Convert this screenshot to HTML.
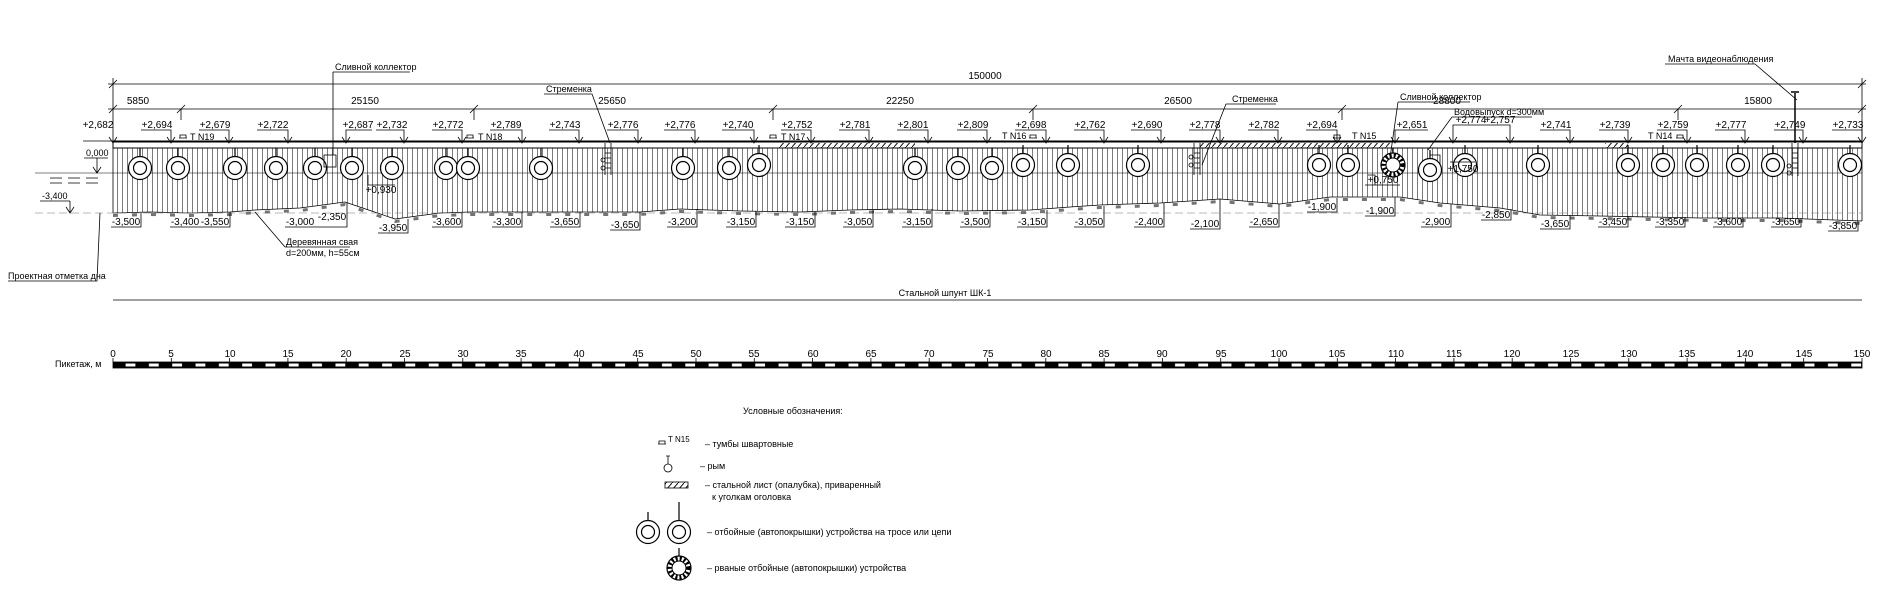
<!DOCTYPE html>
<html><head><meta charset="utf-8"><style>
html,body{margin:0;padding:0;background:#fff;width:1882px;height:600px;overflow:hidden}
svg{display:block}
text{font-family:"Liberation Sans","DejaVu Sans",sans-serif;fill:#000}
.t{font-size:10px;text-anchor:middle}
.s{font-size:9px}
.ln{stroke:#000;stroke-width:0.8;fill:none}
</style></head><body>
<svg width="1882" height="600" viewBox="0 0 1882 600">
<defs>
<pattern id="vl" width="5" height="10" patternUnits="userSpaceOnUse">
<line x1="2.5" y1="0" x2="2.5" y2="10" stroke="#444" stroke-width="0.7"/></pattern>
<pattern id="hh" width="6" height="7" patternUnits="userSpaceOnUse">
<line x1="0" y1="7" x2="6" y2="0" stroke="#000" stroke-width="0.9"/></pattern>
<pattern id="rul" x="113" y="0" width="23.32" height="600" patternUnits="userSpaceOnUse">
<rect x="0" y="0" width="23.32" height="600" fill="#000"/>
<rect x="12.6" y="363.5" width="9.8" height="3" fill="#fff"/></pattern>
<g id="f"><line x1="0" y1="-20" x2="0" y2="-11" stroke="#000" stroke-width="1.2"/>
<circle r="11.5" fill="#fff" stroke="#000" stroke-width="1.2"/><circle r="6.5" fill="none" stroke="#000" stroke-width="1.2"/></g>
<g id="arr"><path d="M-4 -6 L0 0 L4 -6" class="ln"/></g>
<g id="bol"><path d="M-4 -2 h8 M-3 -2 v-3 h6 v3" class="ln"/></g>
</defs>

<!-- dimensions -->
<g class="ln">
<line x1="108" y1="84" x2="1866" y2="84"/>
<line x1="108" y1="109" x2="1866" y2="109"/>
<line x1="113" y1="78" x2="113" y2="143"/>
<line x1="1862" y1="78" x2="1862" y2="143"/>
<path d="M109 88 l8 -8 M109 113 l8 -8 M1858 88 l8 -8 M1858 113 l8 -8 M177 113 l8 -8 M470 113 l8 -8 M769 113 l8 -8 M1029 113 l8 -8 M1338 113 l8 -8 M1674 113 l8 -8"/>
<path d="M181 109 v11 M474 109 v11 M773 109 v11 M1033 109 v11 M1342 109 v11 M1678 109 v11"/>
</g>
<text class="t" x="985" y="79">150000</text>
<text class="t" x="138" y="104">5850</text>
<text class="t" x="365" y="104">25150</text>
<text class="t" x="612" y="104">25650</text>
<text class="t" x="900" y="104">22250</text>
<text class="t" x="1178" y="104">26500</text>
<text class="t" x="1447" y="104">28800</text>
<text class="t" x="1758" y="104">15800</text>

<!-- wall body -->
<polygon fill="url(#vl)" points="113,148 1862,148 1862,221 1780,218 1700,218 1600,216 1540,215 1500,208 1440,203 1400,197 1330,197 1280,204 1220,199 1160,203 1100,205 1070,207 1030,210 960,211 900,209 850,210 800,212 740,211 680,209 640,212 520,212 470,212 440,213 395,219 345,202 300,208 255,210 230,212 190,213 150,212 113,213"/>
<polyline class="ln" stroke-width="1.1" points="113,213 150,212 190,213 230,212 255,210 300,208 345,202 395,219 440,213 470,212 520,212 640,212 680,209 740,211 800,212 850,210 900,209 960,211 1030,210 1070,207 1100,205 1160,203 1220,199 1280,204 1330,197 1400,197 1440,203 1500,208 1540,215 1600,216 1700,218 1780,218 1862,221"/>
<polyline fill="none" stroke="#000" stroke-width="3" stroke-dasharray="5 14" transform="translate(0,2.5)" points="113,213 150,212 190,213 230,212 255,210 300,208 345,202 395,219 440,213 470,212 520,212 640,212 680,209 740,211 800,212 850,210 900,209 960,211 1030,210 1070,207 1100,205 1160,203 1220,199 1280,204 1330,197 1400,197 1440,203 1500,208 1540,215 1600,216 1700,218 1780,218 1862,221" opacity="0.55"/>
<line x1="113" y1="148" x2="113" y2="213" class="ln"/>
<line x1="1862" y1="148" x2="1862" y2="221" class="ln"/>
<line x1="35" y1="173" x2="1862" y2="173" stroke="#000" stroke-width="0.6"/>
<line x1="35" y1="213" x2="1862" y2="213" stroke="#777" stroke-width="0.6" stroke-dasharray="8 4"/>
<path d="M50 178 h12 M68 178 h12 M86 178 h12 M50 183 h12 M68 183 h12 M86 183 h12" class="ln"/>

<!-- cap -->
<rect x="113" y="142" width="1749" height="6" fill="#fff" stroke="#000" stroke-width="1"/>
<line x1="113" y1="141.5" x2="1862" y2="141.5" stroke="#000" stroke-width="2"/>
<rect x="778" y="143" width="137" height="5" fill="url(#hh)"/>
<rect x="1200" y="143" width="190" height="5" fill="url(#hh)"/>
<rect x="1605" y="143" width="23" height="5" fill="url(#hh)"/>

<!-- fenders -->
<g>
<use href="#f" x="140" y="168"/><use href="#f" x="178" y="168"/><use href="#f" x="235" y="168"/><use href="#f" x="276" y="168"/><use href="#f" x="315" y="168"/><use href="#f" x="352" y="168"/><use href="#f" x="392" y="168"/><use href="#f" x="446" y="168"/><use href="#f" x="468" y="168"/><use href="#f" x="541" y="168"/><use href="#f" x="683" y="168"/><use href="#f" x="729" y="168"/><use href="#f" x="759" y="165"/><use href="#f" x="915" y="168"/><use href="#f" x="958" y="168"/><use href="#f" x="992" y="168"/><use href="#f" x="1023" y="165"/><use href="#f" x="1068" y="165"/><use href="#f" x="1138" y="165"/><use href="#f" x="1319" y="165"/><use href="#f" x="1348" y="165"/><use href="#f" x="1430" y="170"/><use href="#f" x="1465" y="165"/><use href="#f" x="1538" y="165"/><use href="#f" x="1628" y="165"/><use href="#f" x="1663" y="165"/><use href="#f" x="1697" y="165"/><use href="#f" x="1738" y="165"/><use href="#f" x="1773" y="165"/><use href="#f" x="1850" y="165"/>
<g transform="translate(1393,165)"><line x1="0" y1="-17" x2="0" y2="-12" stroke="#000" stroke-width="1.2"/><circle r="12" fill="#fff" stroke="#000" stroke-width="1.2"/><circle r="9.25" fill="none" stroke="#000" stroke-width="4.5" stroke-dasharray="2 2"/><circle r="7" fill="#fff" stroke="#000" stroke-width="1"/></g>
</g>

<!-- bollards -->
<use href="#bol" x="183" y="140"/><text class="s" x="190" y="140">T  N19</text>
<use href="#bol" x="470" y="140"/><text class="s" x="478" y="140">T  N18</text>
<use href="#bol" x="773" y="140"/><text class="s" x="781" y="140">T  N17</text>
<text class="s" x="1002" y="139">T  N16</text><use href="#bol" x="1033" y="140"/>
<use href="#bol" x="1337" y="140"/><text class="s" x="1352" y="139">T  N15</text>
<text class="s" x="1648" y="139">T  N14</text><use href="#bol" x="1680" y="140"/>

<!-- ladders -->
<g class="ln">
<path d="M605 143 v32 M611 143 v32 M605 148 h6 M605 153 h6 M605 158 h6 M605 163 h6 M605 168 h6"/>
<circle cx="603" cy="160" r="2"/><circle cx="603" cy="168" r="2"/>
<path d="M1194 143 v32 M1200 143 v32 M1194 148 h6 M1194 153 h6 M1194 158 h6 M1194 163 h6 M1194 168 h6"/>
<circle cx="1191" cy="157" r="2"/><circle cx="1191" cy="165" r="2"/>
<path d="M1792 143 v33 M1798 143 v33 M1792 148 h6 M1792 153 h6 M1792 158 h6 M1792 163 h6 M1792 168 h6"/>
<circle cx="1789" cy="166" r="2"/><circle cx="1789" cy="173" r="2"/>
<path d="M1795 143 V93 M1791 92 h8" stroke-width="1.5"/>
</g>

<!-- leaders & notes -->
<g class="ln">
<path d="M333 72 H410 M333 72 V155"/><rect x="324" y="155" width="12" height="12"/>
<path d="M544 94 H592 L610 143"/>
<path d="M1226 104 H1276 M1226 104 L1202 165"/>
<path d="M1398 102 H1470 M1398 102 L1390 158"/>
<path d="M1452 117 H1532 M1452 117 L1428 150"/>
<path d="M1665 64 H1755 L1797 100"/>
<path d="M368 175 V185 H395" /><path d="M1368 175 H1375 V185 M1365 185 H1400"/><path d="M1430 155 h10 v10 M1450 162 h25"/>
<path d="M285 247 H350 M285 247 L255 212"/>
<path d="M8 281 H97 L100 213"/>
<path d="M83 141 H113"/>
<path d="M84 158 H108 M97 158 V173 M93 167 L97 173 L101 167"/>
<path d="M40 201 H70 M70 201 V213 M66 207 L70 213 L74 207"/>
<line x1="113" y1="300" x2="1862" y2="300"/>
</g>
<text class="s" x="335" y="70">Сливной коллектор</text>
<text class="s" x="546" y="92">Стременка</text>
<text class="s" x="1232" y="102">Стременка</text>
<text class="s" x="1400" y="100">Сливной коллектор</text>
<text class="s" x="1454" y="115">Водовыпуск d=300мм</text>
<text class="s" x="1668" y="62">Мачта видеонаблюдения</text>
<text class="s" x="286" y="245">Деревянная свая</text>
<text class="s" x="286" y="256">d=200мм,  h=55см</text>
<text class="s" x="8" y="279">Проектная отметка дна</text>
<text class="s" x="86" y="156">0,000</text>
<text class="s" x="42" y="199">-3,400</text>
<text class="t" x="381" y="193">+0,930</text>
<text class="t" x="1383" y="183">+0,750</text>
<text class="t" x="1463" y="172">+1,750</text>
<text class="s" x="945" y="296" text-anchor="middle">Стальной шпунт ШК-1</text>

<!-- top elevations -->
<g class="ln">
<use href="#arr" x="113" y="143"/>
<path d="M141 130 H171 V143"/><use href="#arr" x="171" y="143"/>
<path d="M199 130 H229 V143"/><use href="#arr" x="229" y="143"/>
<path d="M257 130 H288 V143"/><use href="#arr" x="288" y="143"/>
<path d="M346 143 V130 H372"/><use href="#arr" x="346" y="143"/>
<path d="M376 130 H404 V143"/><use href="#arr" x="404" y="143"/>
<path d="M432 130 H462 V143"/><use href="#arr" x="462" y="143"/>
<path d="M490 130 H522 V143"/><use href="#arr" x="522" y="143"/>
<path d="M549 130 H579 V143"/><use href="#arr" x="579" y="143"/>
<path d="M607 130 H638 V143"/><use href="#arr" x="638" y="143"/>
<path d="M664 130 H695 V143"/><use href="#arr" x="695" y="143"/>
<path d="M722 130 H754 V143"/><use href="#arr" x="754" y="143"/>
<path d="M781 130 H811 V143"/><use href="#arr" x="811" y="143"/>
<path d="M839 130 H869 V143"/><use href="#arr" x="869" y="143"/>
<path d="M897 130 H928 V143"/><use href="#arr" x="928" y="143"/>
<path d="M957 130 H987 V143"/><use href="#arr" x="987" y="143"/>
<path d="M1015 130 H1046 V143"/><use href="#arr" x="1046" y="143"/>
<path d="M1074 130 H1104 V143"/><use href="#arr" x="1104" y="143"/>
<path d="M1131 130 H1161 V143"/><use href="#arr" x="1161" y="143"/>
<path d="M1189 130 H1220 V143"/><use href="#arr" x="1220" y="143"/>
<path d="M1248 130 H1278 V143"/><use href="#arr" x="1278" y="143"/>
<path d="M1306 130 H1337 V143"/><use href="#arr" x="1337" y="143"/>
<path d="M1395 143 V130 H1428"/><use href="#arr" x="1395" y="143"/>
<path d="M1453 143 V125 H1510 V143"/><use href="#arr" x="1453" y="143"/><use href="#arr" x="1510" y="143"/>
<path d="M1540 130 H1570 V143"/><use href="#arr" x="1570" y="143"/>
<path d="M1599 130 H1628 V143"/><use href="#arr" x="1628" y="143"/>
<path d="M1657 130 H1687 V143"/><use href="#arr" x="1687" y="143"/>
<path d="M1715 130 H1745 V143"/><use href="#arr" x="1745" y="143"/>
<path d="M1774 130 H1803 V143"/><use href="#arr" x="1803" y="143"/>
<path d="M1832 130 H1862 V143"/><use href="#arr" x="1862" y="143"/>
</g>
<g class="t">
<text x="98" y="128">+2,682</text><text x="157" y="128">+2,694</text><text x="215" y="128">+2,679</text><text x="273" y="128">+2,722</text><text x="358" y="128">+2,687</text><text x="392" y="128">+2,732</text><text x="448" y="128">+2,772</text><text x="506" y="128">+2,789</text><text x="565" y="128">+2,743</text><text x="623" y="128">+2,776</text><text x="680" y="128">+2,776</text><text x="738" y="128">+2,740</text><text x="797" y="128">+2,752</text><text x="855" y="128">+2,781</text><text x="913" y="128">+2,801</text><text x="973" y="128">+2,809</text><text x="1031" y="128">+2,698</text><text x="1090" y="128">+2,762</text><text x="1147" y="128">+2,690</text><text x="1205" y="128">+2,778</text><text x="1264" y="128">+2,782</text><text x="1322" y="128">+2,694</text><text x="1412" y="128">+2,651</text><text x="1471" y="123">+2,774</text><text x="1500" y="123">+2,757</text><text x="1556" y="128">+2,741</text><text x="1615" y="128">+2,739</text><text x="1673" y="128">+2,759</text><text x="1731" y="128">+2,777</text><text x="1790" y="128">+2,749</text><text x="1848" y="128">+2,733</text>
</g>

<!-- bottom elevations -->
<g class="ln">
<path d="M111 227 H141 V213"/><path d="M170 227 H230 V212"/><path d="M285 227 H347 V203"/><path d="M378 233 H408 V219"/><path d="M432 227 H462 V213"/>
<path d="M492 227 H522 V212"/><path d="M550 227 H580 V212"/><path d="M610 230 H640 V212"/><path d="M667 227 H697 V209"/><path d="M726 227 H756 V211"/><path d="M785 227 H815 V212"/><path d="M843 227 H873 V210"/><path d="M902 227 H932 V209"/><path d="M960 227 H990 V211"/><path d="M1017 227 H1047 V210"/><path d="M1074 227 H1104 V206"/><path d="M1134 227 H1164 V203"/><path d="M1190 229 H1220 V199"/><path d="M1249 227 H1279 V204"/><path d="M1307 212 H1337 V198"/><path d="M1365 216 H1395 V197"/><path d="M1421 227 H1451 V204"/><path d="M1481 220 H1511 V209"/><path d="M1540 229 H1570 V215"/><path d="M1598 227 H1628 V216"/><path d="M1655 227 H1685 V217"/><path d="M1713 227 H1743 V218"/><path d="M1771 227 H1801 V218"/><path d="M1828 231 H1858 V221"/>
</g>
<g class="t">
<text x="126" y="225">-3,500</text><text x="185" y="225">-3,400</text><text x="215" y="225">-3,550</text><text x="300" y="225">-3,000</text><text x="332" y="220">-2,350</text><text x="393" y="231">-3,950</text><text x="447" y="225">-3,600</text><text x="507" y="225">-3,300</text><text x="565" y="225">-3,650</text><text x="625" y="228">-3,650</text><text x="682" y="225">-3,200</text><text x="741" y="225">-3,150</text><text x="800" y="225">-3,150</text><text x="858" y="225">-3,050</text><text x="917" y="225">-3,150</text><text x="975" y="225">-3,500</text><text x="1032" y="225">-3,150</text><text x="1089" y="225">-3,050</text><text x="1149" y="225">-2,400</text><text x="1205" y="227">-2,100</text><text x="1264" y="225">-2,650</text><text x="1322" y="210">-1,900</text><text x="1380" y="214">-1,900</text><text x="1436" y="225">-2,900</text><text x="1496" y="218">-2,850</text><text x="1555" y="227">-3,650</text><text x="1613" y="225">-3,450</text><text x="1670" y="225">-3,350</text><text x="1728" y="225">-3,600</text><text x="1786" y="225">-3,650</text><text x="1843" y="229">-3,850</text>
</g>

<!-- ruler -->
<text class="s" x="55" y="367">Пикетаж, м</text>
<rect x="113" y="362" width="1749" height="6" fill="url(#rul)" stroke="#000" stroke-width="0.8"/>
<g class="ln"><path d="M113 358 v4 M171.3 358 v4 M229.6 358 v4 M287.9 358 v4 M346.2 358 v4 M404.5 358 v4 M462.8 358 v4 M521.1 358 v4 M579.4 358 v4 M637.7 358 v4 M696 358 v4 M754.3 358 v4 M812.6 358 v4 M870.9 358 v4 M929.2 358 v4 M987.5 358 v4 M1045.8 358 v4 M1104.1 358 v4 M1162.4 358 v4 M1220.7 358 v4 M1279 358 v4 M1337.3 358 v4 M1395.6 358 v4 M1453.9 358 v4 M1512.2 358 v4 M1570.5 358 v4 M1628.8 358 v4 M1687.1 358 v4 M1745.4 358 v4 M1803.7 358 v4 M1862 358 v4"/></g>
<g class="t">
<text x="113" y="357">0</text><text x="171" y="357">5</text><text x="230" y="357">10</text><text x="288" y="357">15</text><text x="346" y="357">20</text><text x="405" y="357">25</text><text x="463" y="357">30</text><text x="521" y="357">35</text><text x="579" y="357">40</text><text x="638" y="357">45</text><text x="696" y="357">50</text><text x="754" y="357">55</text><text x="813" y="357">60</text><text x="871" y="357">65</text><text x="929" y="357">70</text><text x="988" y="357">75</text><text x="1046" y="357">80</text><text x="1104" y="357">85</text><text x="1162" y="357">90</text><text x="1221" y="357">95</text><text x="1279" y="357">100</text><text x="1337" y="357">105</text><text x="1396" y="357">110</text><text x="1454" y="357">115</text><text x="1512" y="357">120</text><text x="1571" y="357">125</text><text x="1629" y="357">130</text><text x="1687" y="357">135</text><text x="1745" y="357">140</text><text x="1804" y="357">145</text><text x="1862" y="357">150</text>
</g>

<!-- legend -->
<text class="s" x="743" y="414">Условные обозначения:</text>
<use href="#bol" x="662" y="446"/><text style="font-size:8px" x="668" y="442">T  N15</text>
<text class="s" x="705" y="447">–  тумбы швартовные</text>
<g class="ln"><circle cx="668" cy="468" r="4"/><path d="M668 464 V456 M666 456 h4"/></g>
<text class="s" x="700" y="469">–  рым</text>
<rect x="665" y="482" width="23" height="6" fill="url(#hh)" stroke="#000" stroke-width="0.8"/>
<text class="s" x="705" y="488">–  стальной лист (опалубка), приваренный</text>
<text class="s" x="712" y="500">к уголкам оголовка</text>
<use href="#f" x="648" y="532"/><use href="#f" x="679" y="532"/>
<line x1="679" y1="512" x2="679" y2="502" stroke="#000" stroke-width="1.2"/>
<text class="s" x="707" y="535">–  отбойные (автопокрышки) устройства на тросе или цепи</text>
<g transform="translate(679,568)"><line x1="0" y1="-20" x2="0" y2="-12" stroke="#000" stroke-width="1.2"/><circle r="12" fill="#fff" stroke="#000" stroke-width="1.2"/><circle r="9.25" fill="none" stroke="#000" stroke-width="4.5" stroke-dasharray="2 2"/><circle r="7" fill="#fff" stroke="#000" stroke-width="1"/></g>
<text class="s" x="707" y="571">–  рваные отбойные (автопокрышки) устройства</text>
</svg>
</body></html>
